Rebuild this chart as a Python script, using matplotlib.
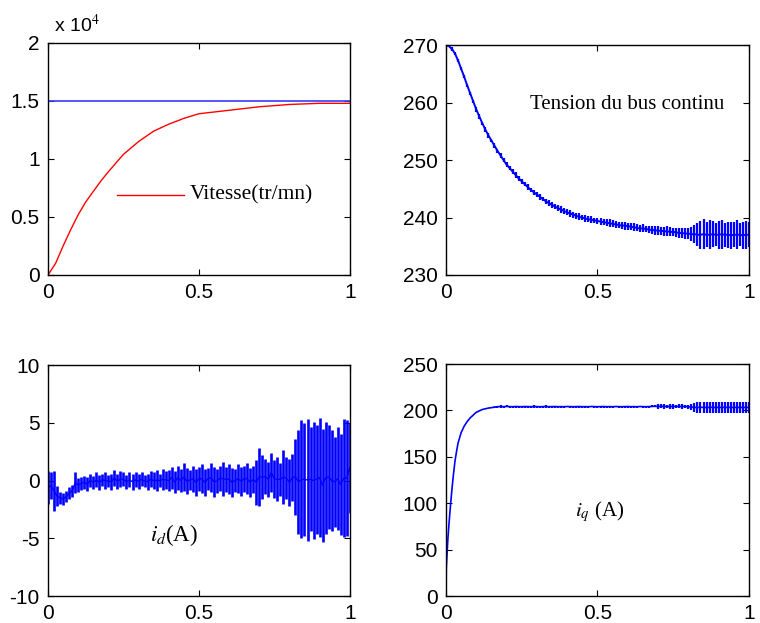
import numpy as np
import matplotlib
matplotlib.use("Agg")
import matplotlib.pyplot as plt
from matplotlib.ticker import FuncFormatter

# ---- data (time in s) ----
T = np.round(np.linspace(0, 1, 101), 2)

SPEED_T = [0, 0.025, 0.05, 0.075, 0.1, 0.125, 0.15, 0.175, 0.2, 0.25,
           0.3, 0.35, 0.4, 0.45, 0.5, 0.6, 0.7, 0.8, 0.9, 1.0]
SPEED = [0, 1000, 2500, 3900, 5200, 6300, 7200, 8100, 8900, 10400,
         11500, 12400, 13000, 13500, 13900, 14200, 14500, 14700, 14800, 14800]
SPEED_REF = 15000

VBUS_MID = [270.0, 269.8, 269.3, 268.5, 267.3, 265.9, 264.5, 263.0, 261.6, 260.2,
            258.8, 257.6, 256.4, 255.3, 254.3, 253.4, 252.5, 251.6, 250.8, 250.0,
            249.2, 248.6, 248.0, 247.4, 246.8, 246.3, 245.8, 245.3, 244.8, 244.4,
            244.0, 243.6, 243.2, 242.8, 242.5, 242.2, 241.9, 241.6, 241.4, 241.1,
            240.9, 240.7, 240.5, 240.3, 240.1, 240.0, 239.8, 239.7, 239.6, 239.5,
            239.4, 239.3, 239.2, 239.1, 239.0, 238.9, 238.8, 238.7, 238.6, 238.6,
            238.5, 238.4, 238.3, 238.2, 238.1, 238.1, 238.0, 237.9, 237.8, 237.8,
            237.7, 237.7, 237.6, 237.6, 237.5, 237.5, 237.4, 237.3, 237.3, 237.2,
            237.2, 237.1, 237.1, 237.0, 237.0, 237.1, 237.0, 237.0, 237.1, 237.0,
            237.0, 237.1, 237.0, 237.0, 236.9, 237.0, 237.0, 237.0, 236.9, 237.0, 237.0]
VBUS_RIPPLE = [0.1, 0.2, 0.3, 0.3, 0.3, 0.3, 0.3, 0.3, 0.3, 0.3,
               0.4, 0.4, 0.3, 0.4, 0.4, 0.3, 0.4, 0.4, 0.4, 0.3,
               0.4, 0.4, 0.4, 0.5, 0.4, 0.4, 0.4, 0.5, 0.4, 0.4,
               0.5, 0.5, 0.4, 0.5, 0.5, 0.5, 0.4, 0.5, 0.6, 0.5,
               0.5, 0.6, 0.5, 0.5, 0.6, 0.5, 0.6, 0.5, 0.6, 0.5,
               0.6, 0.6, 0.5, 0.6, 0.7, 0.6, 0.6, 0.5, 0.6, 0.7,
               0.6, 0.6, 0.7, 0.6, 0.6, 0.7, 0.6, 0.6, 0.7, 0.8,
               0.8, 0.7, 0.8, 0.9, 0.8, 0.7, 0.8, 0.9, 0.8, 0.9,
               1.0, 1.2, 1.6, 2.0, 2.4, 2.6, 2.2, 2.5, 2.3, 2.0,
               2.4, 2.5, 2.1, 2.3, 2.4, 2.2, 2.5, 2.0, 2.3, 2.4, 2.2]

ID_HI = [0.8, 0.7, 0.8, -0.5, -1.0, -1.1, -0.9, -0.6, -0.4, 0.7,
         0.2, 0.3, 0.4, 0.3, 0.6, 0.4, 0.7, 0.5, 0.6, 0.7,
         0.5, 0.6, 0.9, 0.6, 0.8, 0.7, 0.5, 0.7, 0.6, 0.7,
         0.6, 0.7, 0.5, 0.6, 0.8, 0.7, 0.9, 0.6, 1.0, 0.8,
         0.9, 1.2, 0.8, 1.3, 1.0, 1.5, 1.1, 0.9, 1.3, 1.0,
         1.2, 1.4, 1.0, 1.1, 1.5, 1.2, 1.0, 1.3, 1.6, 1.2,
         1.4, 1.1, 1.0, 1.4, 1.2, 1.3, 1.5, 1.1, 1.3, 1.8,
         2.8, 2.2, 1.9, 1.6, 2.4, 1.8, 2.0, 1.5, 2.6, 2.0,
         1.9, 2.3, 3.6, 4.4, 5.2, 5.0, 5.3, 4.6, 5.1, 4.8,
         5.4, 4.5, 5.1, 4.8, 4.4, 3.8, 4.6, 4.0, 5.3, 5.2, 5.0]
ID_LO = [-2.0, -1.6, -2.6, -2.2, -2.0, -2.1, -1.9, -1.6, -1.4, -1.1,
         -1.0, -0.8, -0.7, -0.9, -0.6, -0.7, -0.6, -0.8, -0.5, -0.7,
         -0.6, -0.8, -0.5, -0.7, -0.6, -0.5, -0.7, -0.6, -0.8, -0.6,
         -0.7, -0.5, -0.6, -0.8, -0.6, -0.7, -0.9, -0.6, -0.8, -0.7,
         -0.9, -0.7, -1.1, -0.8, -1.0, -0.9, -1.2, -0.8, -1.0, -1.3,
         -0.9, -1.1, -1.3, -0.8, -1.0, -1.4, -1.1, -0.9, -1.3, -1.0,
         -1.2, -1.4, -1.0, -1.1, -1.3, -1.0, -1.2, -1.4, -1.1, -2.1,
         -2.2, -1.6, -1.2, -1.4, -1.0, -1.5, -1.8, -1.3, -2.0, -1.6,
         -2.2, -1.8, -3.0, -4.6, -5.0, -4.8, -5.2, -4.4, -5.1, -4.6,
         -4.9, -5.3, -4.6, -4.2, -4.4, -4.0, -4.3, -4.7, -4.9, -4.8, -2.8]

IQ_T_RISE = [0, 0.001, 0.003, 0.006, 0.01, 0.015, 0.02, 0.025, 0.03, 0.035,
             0.04, 0.05, 0.06, 0.07, 0.08, 0.09, 0.10, 0.12, 0.14, 0.16]
IQ_RISE = [0, 30, 42, 60, 78, 98, 116, 132, 146, 156,
           165, 176, 183, 188, 192, 195, 198, 201, 202.5, 203.5]
# plateau, t = 0.17 ... 1.00
IQ_MID = [204.0, 204.2, 204.0, 204.3, 204.1, 204.0, 204.2, 204.1, 204.0, 204.2,
          204.1, 204.0, 204.2, 204.1, 204.0, 204.1, 204.2, 204.0, 204.1, 204.2,
          204.0, 204.1, 204.0, 204.2, 204.1, 204.0, 204.1, 204.2, 204.0, 204.1,
          204.0, 204.2, 204.1, 204.0, 204.1, 204.2, 204.0, 204.1, 204.0, 204.2,
          204.1, 204.0, 204.1, 204.2, 204.0, 204.1, 204.0, 204.2, 204.1, 204.0,
          204.1, 204.3, 204.4, 204.2, 204.3, 204.4, 204.2, 204.1, 204.3, 204.2,
          204.3, 204.2, 204.3, 204.0, 203.6, 203.3, 203.2, 203.4, 203.2, 203.3,
          203.2, 203.4, 203.2, 203.3, 203.2, 203.4, 203.2, 203.3, 203.2, 203.3,
          203.2, 203.3, 203.2, 203.3]
IQ_RIPPLE = [1.0, 1.2, 1.0, 1.1, 1.2, 1.0, 1.1, 1.0, 1.2, 1.1,
             1.0, 1.1, 1.2, 1.0, 1.1, 1.0, 1.2, 1.1, 1.0, 1.1,
             1.2, 1.0, 1.1, 1.0, 1.2, 1.1, 1.0, 1.1, 1.2, 1.0,
             1.1, 1.0, 1.2, 1.1, 1.0, 1.1, 1.2, 1.0, 1.1, 1.0,
             1.2, 1.1, 1.0, 1.1, 1.2, 1.0, 1.1, 1.0, 1.2, 1.1,
             1.0, 1.1, 1.2, 2.5, 2.2, 2.6, 2.0, 2.3, 2.4, 2.1,
             2.2, 2.5, 2.0, 2.3, 3.5, 4.5, 5.5, 6.0, 5.8, 6.2,
             5.9, 6.1, 6.0, 5.8, 6.2, 6.0, 5.9, 6.1, 5.8, 6.0,
             6.2, 5.9, 6.0, 6.1]

BLUE = "#0000ff"
plt.rcParams["font.family"] = ["Liberation Sans", "DejaVu Sans"]
plt.rcParams["mathtext.fontset"] = "stix"
plt.rcParams["axes.unicode_minus"] = False

fig = plt.figure(figsize=(7.6, 6.23), dpi=100)
ax1 = fig.add_axes([0.0632, 0.5586, 0.397, 0.3724])
ax2 = fig.add_axes([0.5868, 0.5586, 0.3987, 0.369])
ax3 = fig.add_axes([0.0632, 0.0433, 0.397, 0.3708])
ax4 = fig.add_axes([0.5868, 0.0433, 0.3987, 0.3724])

serif = dict(family=["Liberation Serif", "DejaVu Serif"])

# speed
ax1.axhline(SPEED_REF, color="#3a3aff", lw=1.2)
ax1.plot(SPEED_T, SPEED, color="red", lw=1)
ax1.plot([0.23, 0.45], [6900, 6900], color="red", lw=1)
ax1.text(0.47, 6900, "Vitesse(tr/mn)", va="center", fontsize=15.5, **serif)
ax1.set_ylim(0, 20000)
ax1.set_yticks([0, 5000, 10000, 15000, 20000])
ax1.yaxis.set_major_formatter(FuncFormatter(lambda v, p: "%g" % (v / 1e4)))
ax1.text(0.02, 1.03, "x 10$^4$", transform=ax1.transAxes, fontsize=14,
         ha="left", va="bottom")

# dc bus voltage
vmid = np.array(VBUS_MID)
vrip = np.array(VBUS_RIPPLE)
ax2.vlines(T, vmid - vrip, vmid + vrip, color=BLUE, lw=1.6)
ax2.plot(T, vmid, color=BLUE, lw=1.4)
ax2.text(0.277, 259.6, "Tension du bus continu", va="center", fontsize=15, **serif)
ax2.set_ylim(230, 270)
ax2.set_yticks([230, 240, 250, 260, 270])

# id
ax3.vlines(T, ID_LO, ID_HI, color=BLUE, lw=1.9)
ax3.plot(T, (np.array(ID_HI) + np.array(ID_LO)) / 2, color=BLUE, lw=1)
ax3.text(0.338, -4.7, "$i_d$(A)", va="center", fontsize=16.5, **serif)
ax3.set_ylim(-10, 10)
ax3.set_yticks([-10, -5, 0, 5, 10])

# iq
tp = T[17:]
qmid = np.array(IQ_MID)
qrip = np.array(IQ_RIPPLE)
ax4.plot(IQ_T_RISE, IQ_RISE, color=BLUE, lw=1.2)
ax4.plot(np.r_[0.16, tp], np.r_[203.5, qmid], color=BLUE, lw=1.2)
ax4.vlines(tp, qmid - qrip, qmid + qrip, color=BLUE, lw=1.6)
ax4.text(0.426, 90.8, "$i_q$ (A)", va="center", fontsize=15, **serif)
ax4.set_ylim(0, 250)
ax4.set_yticks([0, 50, 100, 150, 200, 250])

for ax in (ax1, ax2, ax3, ax4):
    ax.set_xlim(0, 1)
    ax.set_xticks([0, 0.5, 1])
    ax.set_xticklabels(["0", "0.5", "1"])
    ax.tick_params(direction="in", top=True, right=True, labelsize=15,
                   length=4, width=0.8, pad=6)
    for s in ax.spines.values():
        s.set_linewidth(1.0)

fig.savefig("out.png", dpi=100)
